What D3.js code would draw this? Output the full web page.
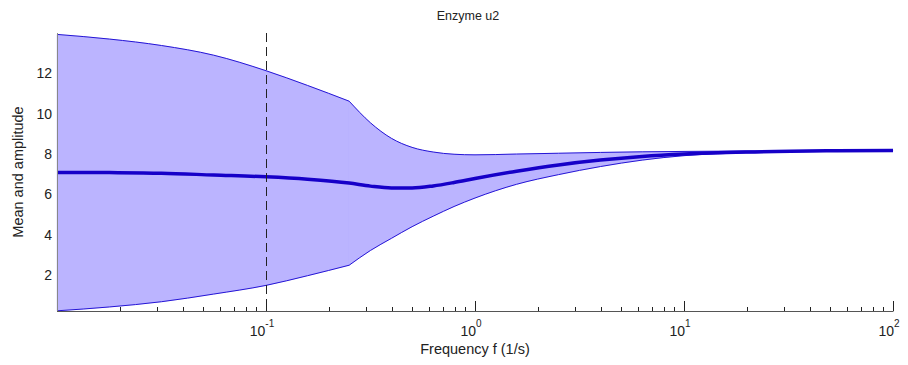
<!DOCTYPE html>
<html>
<head>
<meta charset="utf-8">
<script src="https://cdn.jsdelivr.net/npm/d3@7"></script>
<style>
  body { margin: 0; background: #fff; }
  text { font-family: "Liberation Sans", Arial, sans-serif; fill: #222; }
</style>
</head>
<body>
<div id="chart"></div>
<script>
// frequency grid (1/s)
var freq = [0.01, 0.0178, 0.0316, 0.0562, 0.1, 0.158, 0.25, 0.316, 0.398, 0.5, 0.631, 0.794,
            1, 1.58, 2.51, 3.98, 6.31, 10, 20, 50, 100];
// upper envelope
var upper = [13.93, 13.70, 13.38, 12.90, 12.13, 11.40, 10.62, 9.55, 8.78, 8.33, 8.10, 7.99,
             7.96, 8.00, 8.04, 8.08, 8.11, 8.13, 8.15, 8.18, 8.20];
// mean
var mean = [7.09, 7.08, 7.05, 6.96, 6.87, 6.75, 6.56, 6.41, 6.32, 6.32, 6.42, 6.59,
            6.79, 7.15, 7.46, 7.70, 7.88, 8.00, 8.10, 8.16, 8.18];
// lower envelope
var lower = [0.23, 0.42, 0.68, 1.06, 1.49, 1.97, 2.49, 3.22, 3.82, 4.40, 4.92, 5.40,
             5.82, 6.50, 6.98, 7.38, 7.70, 7.92, 8.06, 8.13, 8.15];
var kinkIndex = 6; // envelope bends sharply at f = 0.25
var yTicks = [2, 4, 6, 8, 10, 12];
var xMajor = [0.1, 1, 10, 100];
var xMajorExp = ["-1", "0", "1", "2"];
var markerFreq = 0.1;

var W = 908, H = 365;
var pL = 57, pR = 893, pT = 33, pB = 311;

var svg = d3.select("#chart").append("svg")
  .attr("width", W).attr("height", H);

var x = d3.scaleLog().domain([0.01, 100]).range([pL, pR]);
var y = d3.scaleLinear().domain([0.22, 14]).range([pB, pT]);

var rows = freq.map(function(f, i) { return { f: f, lo: lower[i], hi: upper[i], m: mean[i] }; });
var segs = [rows.slice(0, kinkIndex + 1), rows.slice(kinkIndex)];

var area = d3.area()
  .curve(d3.curveMonotoneX)
  .x(function(d) { return x(d.f); })
  .y0(function(d) { return y(d.lo); })
  .y1(function(d) { return y(d.hi); });

// band (drawn as one path of two pieces)
svg.append("path")
  .attr("fill", "#bbb4ff")
  .attr("stroke", "#bbb4ff")
  .attr("stroke-width", 0.5)
  .attr("d", segs.map(function(s) { return area(s); }).join(""));

// edges
["hi", "lo"].forEach(function(k) {
  var line = d3.line()
    .curve(d3.curveMonotoneX)
    .x(function(d) { return x(d.f); })
    .y(function(d) { return y(d[k]); });
  var d0 = line(segs[0]);
  var d1 = line(segs[1]).replace(/^M[^C]*/, "");
  svg.append("path")
    .attr("fill", "none")
    .attr("stroke", "#2414d6")
    .attr("stroke-width", 1)
    .attr("d", d0 + d1);
});

// mean
svg.append("path")
  .datum(rows)
  .attr("fill", "none")
  .attr("stroke", "#1600c8")
  .attr("stroke-width", 3.5)
  .attr("d", d3.line()
    .curve(d3.curveMonotoneX)
    .x(function(d) { return x(d.f); })
    .y(function(d) { return y(d.m); }));

// dashed marker
svg.append("line")
  .attr("x1", Math.round(x(markerFreq)) + 0.5).attr("x2", Math.round(x(markerFreq)) + 0.5)
  .attr("y1", pT).attr("y2", pB)
  .attr("stroke", "#222")
  .attr("stroke-width", 1)
  .attr("stroke-dasharray", "9,5");

// axis lines
svg.append("line")
  .attr("x1", pL + 0.5).attr("x2", pL + 0.5).attr("y1", pT).attr("y2", pB)
  .attr("stroke", "#888");
svg.append("line")
  .attr("x1", pL).attr("x2", pR + 0.5).attr("y1", pB + 0.5).attr("y2", pB + 0.5)
  .attr("stroke", "#555");

// x ticks
var minorTicks = [];
for (var e = -2; e < 2; e++) {
  for (var m = 2; m <= 9; m++) minorTicks.push(m * Math.pow(10, e));
}
svg.selectAll(".minor").data(minorTicks).enter().append("line")
  .attr("x1", function(d) { return Math.round(x(d)) + 0.5; })
  .attr("x2", function(d) { return Math.round(x(d)) + 0.5; })
  .attr("y1", pB).attr("y2", pB - 4)
  .attr("stroke", "#222");
svg.selectAll(".major").data(xMajor).enter().append("line")
  .attr("x1", function(d) { return Math.round(x(d)) + 0.5; })
  .attr("x2", function(d) { return Math.round(x(d)) + 0.5; })
  .attr("y1", pB).attr("y2", pB - 10)
  .attr("stroke", "#222");

var xl = svg.selectAll(".xl").data(xMajor).enter().append("text")
  .attr("x", function(d) { return x(d) - 4; })
  .attr("y", 336)
  .attr("text-anchor", "middle")
  .style("font-size", "14px");
xl.append("tspan").text("10");
xl.append("tspan")
  .attr("dy", -9)
  .style("font-size", "10px")
  .text(function(d, i) { return xMajorExp[i]; });

// y tick labels
svg.selectAll(".yl").data(yTicks).enter().append("text")
  .attr("x", 52)
  .attr("y", function(d) { return y(d) + 5; })
  .attr("text-anchor", "end")
  .style("font-size", "14px")
  .text(function(d) { return d; });

// titles
svg.append("text")
  .attr("x", 468).attr("y", 20)
  .attr("text-anchor", "middle")
  .style("font-size", "12.5px")
  .text("Enzyme u2");
svg.append("text")
  .attr("x", 475).attr("y", 354)
  .attr("text-anchor", "middle")
  .style("font-size", "14.5px")
  .text("Frequency f (1/s)");
svg.append("text")
  .attr("transform", "translate(23," + ((pT + pB) / 2) + ") rotate(-90)")
  .attr("text-anchor", "middle")
  .style("font-size", "14.5px")
  .text("Mean and amplitude");
</script>
</body>
</html>
